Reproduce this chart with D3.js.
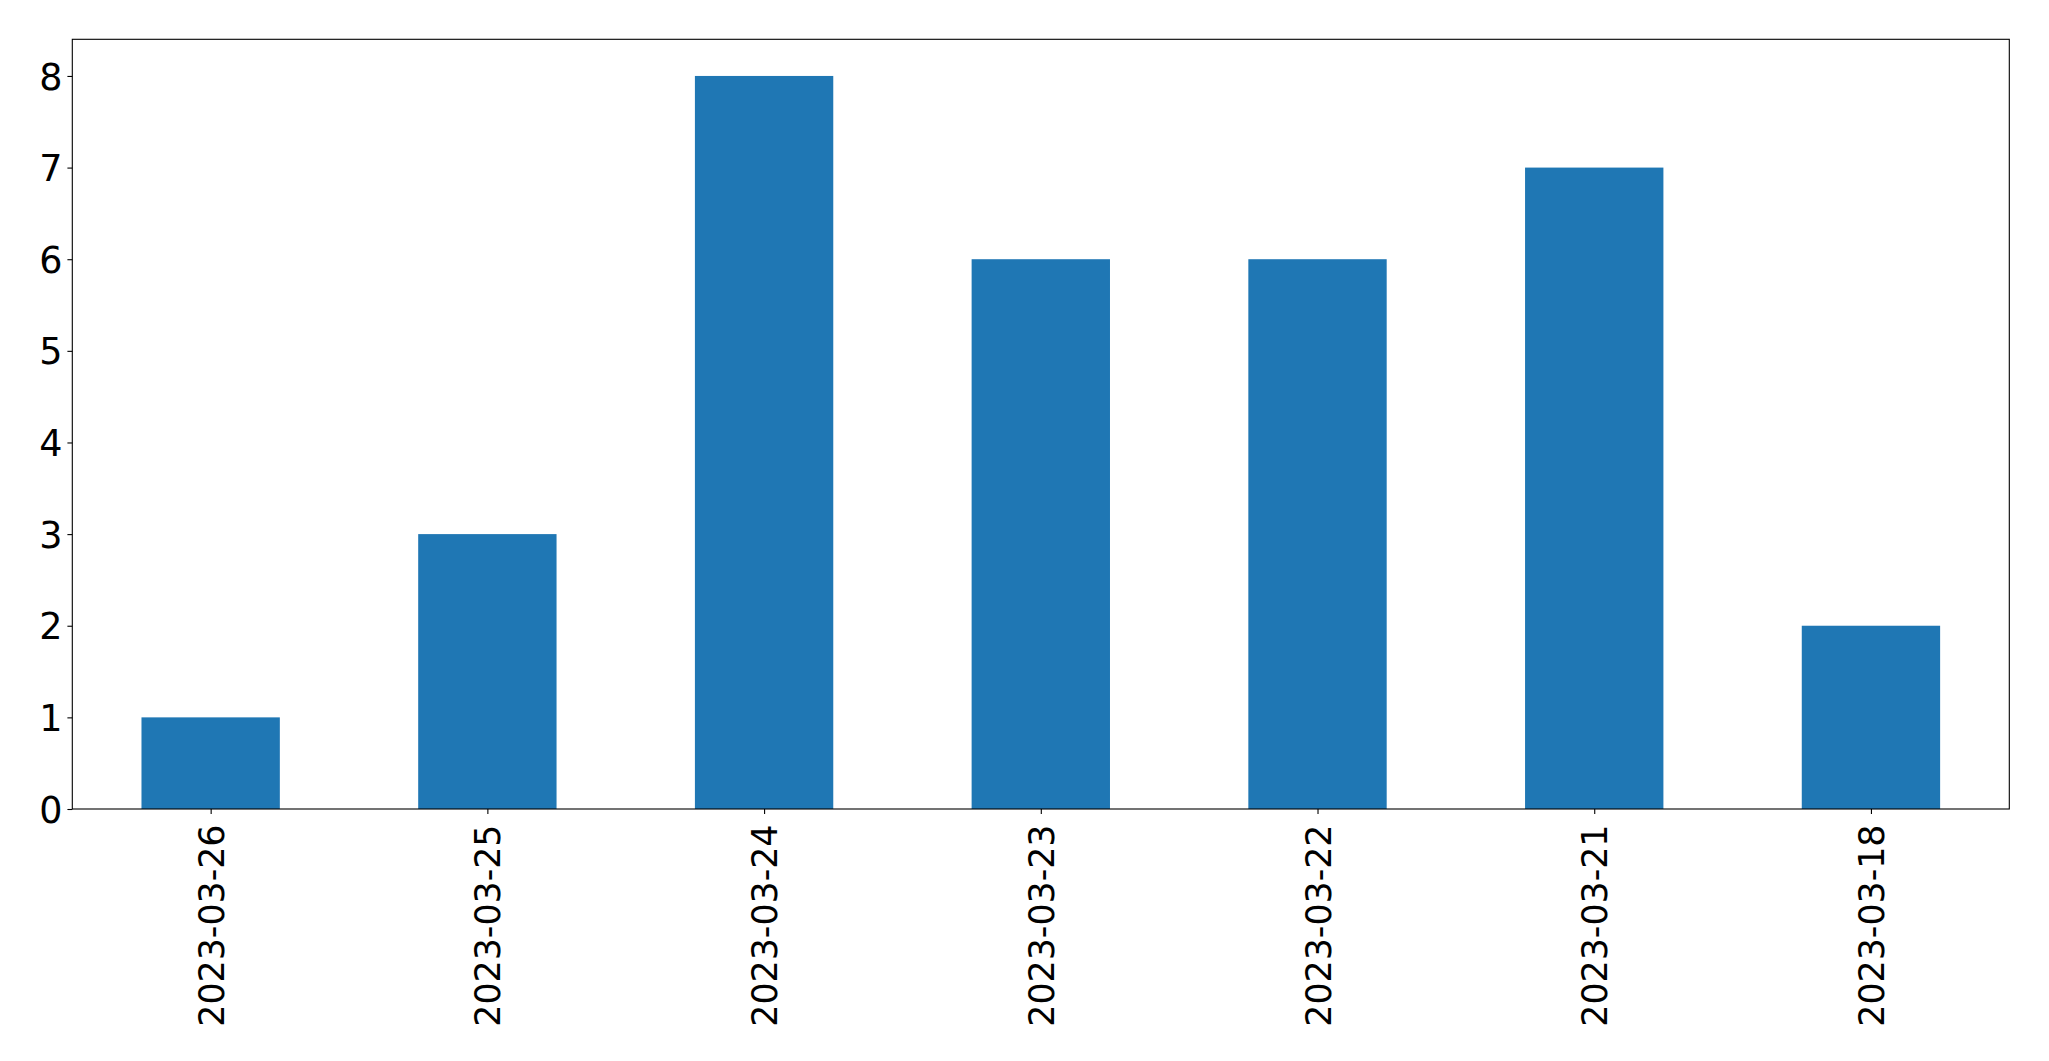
<!DOCTYPE html>
<html>
<head>
<meta charset="utf-8">
<script src="https://cdn.jsdelivr.net/npm/d3@7"></script>
<style>
  html, body { margin: 0; padding: 0; background: #fff; }
  svg { display: block; }
  text { font-family: "DejaVu Sans", sans-serif; fill: #000; }
</style>
</head>
<body>
<svg id="chart" width="2049" height="1061"></svg>
<script>
const categories = ["2023-03-26", "2023-03-25", "2023-03-24", "2023-03-23", "2023-03-22", "2023-03-21", "2023-03-18"];
const values = [1, 3, 8, 6, 6, 7, 2];
const yTicks = [0, 1, 2, 3, 4, 5, 6, 7, 8];

const W = 2049, H = 1061;
const m = { left: 72.3, top: 39.3, right: 2009.3, bottom: 809 };
const fontSize = 36.5;
const xFontSize = 34.8;

const svg = d3.select("#chart");

const x = d3.scaleLinear().domain([-0.5, categories.length - 0.5]).range([m.left, m.right]);
const y = d3.scaleLinear().domain([0, 8.4]).range([m.bottom, m.top]);
const barW = 0.5;

svg.append("g").selectAll("rect").data(values).join("rect")
  .attr("x", (d, i) => x(i - barW / 2))
  .attr("width", (d, i) => x(i + barW / 2) - x(i - barW / 2))
  .attr("y", d => y(d))
  .attr("height", d => y(0) - y(d))
  .attr("fill", "#1f77b4");

// frame
svg.append("rect")
  .attr("x", m.left).attr("y", m.top)
  .attr("width", m.right - m.left).attr("height", m.bottom - m.top)
  .attr("fill", "none").attr("stroke", "#000").attr("stroke-width", 1.1);

// y axis
const yAxis = d3.axisLeft(y).tickValues(yTicks).tickSize(4.9).tickPadding(4.9).tickFormat(d3.format("d"));
const gy = svg.append("g").attr("transform", `translate(${m.left},0)`).call(yAxis);
gy.select(".domain").remove();
gy.selectAll(".tick line").attr("stroke", "#000").attr("stroke-width", 1.1);
gy.selectAll(".tick text").attr("font-size", fontSize).attr("font-family", "DejaVu Sans").attr("fill", "#000").attr("dy", "0.36em");

// x axis
const xAxis = d3.axisBottom(x).tickValues(d3.range(categories.length)).tickSize(4.9).tickPadding(0).tickFormat(i => categories[i]);
const gx = svg.append("g").attr("transform", `translate(0,${m.bottom})`).call(xAxis);
gx.select(".domain").remove();
gx.selectAll(".tick line").attr("stroke", "#000").attr("stroke-width", 1.1);
gx.selectAll(".tick text")
  .attr("font-size", xFontSize).attr("font-family", "DejaVu Sans").attr("fill", "#000")
  .attr("text-anchor", "end")
  .attr("transform", "translate(0,15.5) rotate(-90)")
  .attr("x", 0).attr("y", 0)
  .attr("dy", "0.36em");
</script>
</body>
</html>
